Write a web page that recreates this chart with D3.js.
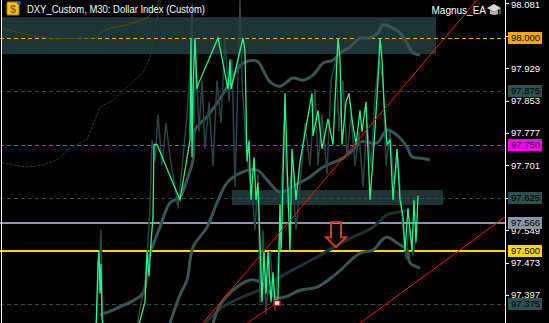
<!DOCTYPE html>
<meta charset="utf-8">
<style>
body { margin: 0; background: #000; }
svg { display: block; background: #000; }
text { font-family: "Liberation Sans", Arial, sans-serif; }
.tick-label { fill: #fff; font-size: 9.5px; }
.lvl-label { fill: #000; font-size: 9.5px; }
</style>
<svg width="549" height="323"></svg>
<script src="https://d3js.org/d3.v7.min.js"></script>
<script>

// ---- data (bar number, price) ----
var priceLine = [[96,97.31],[98,97.47],[99,97.50],[100,97.40],[101,97.47],[102,97.34],[104,97.31],
  [138,97.32],[145,97.38],[147,97.50],[149,97.44],[151,97.52],[153,97.58],[154,97.75],[157,97.75],
  [180,97.62],[190,97.76],[191,98.00],[192,97.72],[193,97.88],[195,98.00],[197,97.88],[198,97.89],
  [218,98.00],[228,97.88],[230,97.95],[231,97.88],[243,98.00],[245,97.97],[247,97.71],[249,97.76],
  [251,97.62],[254,97.72],[256,97.62],[258,97.66],[262,97.38],[264,97.50],[266,97.40],[268,97.50],
  [271,97.38],[273,97.45],[275,97.38],[278,97.39],[280,97.61],[281,97.50],[282,97.57],[285,97.87],
  [287,97.71],[290,97.50],[292,97.74],[296,97.62],[300,97.71],[312,97.87],[313,97.77],[318,97.83],
  [322,97.74],[328,97.81],[333,97.75],[338,98.00],[340,97.95],[342,97.75],[346,97.85],[349,97.87],
  [352,97.81],[356,97.75],[360,97.83],[362,97.78],[366,97.85],[370,97.62],[374,97.75],[378,97.90],
  [380,98.00],[382,97.95],[384,97.85],[387,97.75],[390,97.76],[393,97.62],[397,97.74],[400,97.62],
  [403,97.58],[405,97.50],[408,97.60],[410,97.55],[412,97.50],[414,97.62],[416,97.52],[418,97.63]];

var shadowLine = [[96,97.31],[101,97.55],[103,97.33],[136,97.31],[146,97.44],[150,97.60],[152,97.76],
  [155,97.71],[158,97.82],[162,97.70],[166,97.80],[170,97.72],[175,97.65],[178,97.60],[183,97.72],
  [187,97.82],[190,97.92],[192,98.08],[194,97.80],[196,97.95],[199,97.78],[202,97.90],[205,97.74],
  [209,97.85],[213,97.70],[217,97.90],[221,97.80],[225,98.00],[229,97.85],[232,97.95],[235,97.65],
  [237,97.82],[240,98.09],[242,97.90],[246,97.75],[249,97.68],[252,97.64],[255,97.55],[258,97.68],
  [260,97.38],[263,97.55],[266,97.35],[270,97.50],[275,97.36],[280,97.55],[284,97.80],[288,97.60],
  [292,97.70],[296,97.55],[300,97.65],[305,97.80],[310,97.70],[315,97.88],[318,97.70],[322,97.82],
  [327,97.68],[331,97.90],[336,97.95],[339,97.78],[343,97.90],[347,97.72],[351,97.82],[355,97.70],
  [359,97.78],[363,97.65],[367,97.80],[371,97.70],[375,97.86],[379,97.95],[383,97.90],[386,97.70],
  [390,97.78],[394,97.66],[398,97.72],[402,97.58],[406,97.48],[409,97.56],[413,97.49],[417,97.55]];

var bandUpper = [[100,97.350],[120,97.369],[143,97.401],[148,97.479],[160,97.556],[170,97.613],
  [180,97.627],[187,97.667],[193,97.714],[195,97.784],[207,97.815],[217,97.847],[227,97.885],
  [237,97.925],[243,97.941],[257,97.946],[263,97.925],[270,97.897],[280,97.887],[293,97.906],
  [303,97.901],[313,97.913],[323,97.941],[333,97.948],[340,97.965],[350,97.979],[360,98.000],
  [370,98.000],[378,98.012],[383,98.031],[393,98.023],[400,98.012],[407,97.988],[413,97.965],[420,97.960]];

var bandMiddle = [[170,97.331],[180,97.397],[187,97.432],[193,97.509],[207,97.556],[217,97.613],
  [227,97.660],[240,97.683],[257,97.690],[267,97.667],[280,97.638],[297,97.657],[310,97.674],
  [323,97.697],[343,97.718],[353,97.737],[360,97.756],[377,97.754],[387,97.784],[397,97.772],
  [407,97.744],[412,97.721],[420,97.718],[430,97.714]];

var bandLower = [[213,97.331],[220,97.373],[233,97.408],[250,97.432],[262,97.425],[270,97.401],
  [277,97.390],[285,97.392],[300,97.408],[317,97.415],[337,97.448],[360,97.495],[373,97.502],
  [382,97.526],[387,97.533],[397,97.519],[407,97.502],[410,97.472],[420,97.460]];

var slowAvg = [[205,97.331],[223,97.369],[240,97.390],[257,97.406],[280,97.439],[317,97.486],
  [347,97.526],[373,97.556],[387,97.585],[400,97.592],[410,97.596]];

var oliveAvg = [[2,98.023],[20,98.012],[50,97.998],[97,98.000],[100,98.012],[110,98.023],
  [127,98.031],[137,98.038],[147,98.047],[157,98.073],[160,98.094]];

var oldAvg = [[2,97.707],[27,97.697],[43,97.702],[57,97.714],[67,97.737],[87,97.761],[100,97.838],
  [113,97.854],[127,97.885],[143,97.918],[150,97.955],[157,98.042],[162,98.101]];

var trendLines = [
  [[200,97.323],[479,98.095]],
  [[355,97.322],[505,97.580]],
  [[240,97.320],[277,97.378]]
];
var anchorPoint = [277, 97.378];
var arrowTip = [336, 97.509];

var zones = [
  {from: 2, to: 436, hi: 98.049, lo: 97.962},
  {from: 232, to: 443, hi: 97.643, lo: 97.608}
];

var levels = [98.000, 97.875, 97.750, 97.625, 97.566, 97.500, 97.375];
var yTicks = [98.081, 98.005, 97.929, 97.853, 97.777, 97.701, 97.625, 97.549, 97.473, 97.397];
// the labels of these two ticks sit under the level boxes
var hiddenTicks = [98.005, 97.625];

var titleText = "DXY_Custom, M30:  Dollar Index (Custom)";
var eaText = "Magnus_EA";

// ---- styles for the levels ----
var levelStyle = [
  {color: "#ffa500", dash: "4,3", w: 1},
  {color: "#2f4f4f", dash: "4,3", w: 1},
  {color: "#ff00ff", dash: "4,3", w: 1},
  {color: "#2f4f4f", dash: "4,3", w: 1},
  {color: "#8896a6", dash: null, w: 2},
  {color: "#ffd700", dash: null, w: 2},
  {color: "#2f4f4f", dash: "4,3", w: 1}
];

var svg = d3.select("svg"),
    plotW = 505, height = 323;

var x = d3.scaleLinear().domain([0, 505]).range([0, plotW]);
var y = d3.scaleLinear().domain([97.3310, 98.0892]).range([height, 0]);

svg.append("clipPath").attr("id", "plot")
  .append("rect").attr("x", 0).attr("y", 0).attr("width", plotW).attr("height", height);

var g = svg.append("g").attr("clip-path", "url(#plot)");

var line = d3.line()
    .x(function(d) { return x(d[0]); })
    .y(function(d) { return y(d[1]); });
var smooth = d3.line()
    .curve(d3.curveCatmullRom)
    .x(function(d) { return x(d[0]); })
    .y(function(d) { return y(d[1]); });

// zones
g.selectAll(".zone").data(zones).enter().append("rect")
    .attr("x", function(d) { return x(d.from); })
    .attr("width", function(d) { return x(d.to) - x(d.from); })
    .attr("y", function(d) { return y(d.hi); })
    .attr("height", function(d) { return y(d.lo) - y(d.hi); })
    .attr("fill", "#1f3434");

// levels
g.selectAll(".lvl").data(levels).enter().append("line")
    .attr("x1", 0).attr("x2", plotW)
    .attr("y1", function(d, i) { return Math.round(y(d)) + (levelStyle[i].w == 2 ? 0 : 0.5); })
    .attr("y2", function(d, i) { return Math.round(y(d)) + (levelStyle[i].w == 2 ? 0 : 0.5); })
    .attr("stroke", function(d, i) { return levelStyle[i].color; })
    .attr("stroke-width", function(d, i) { return levelStyle[i].w; })
    .attr("stroke-dasharray", function(d, i) { return levelStyle[i].dash; });

// old averages on the left
g.append("path").datum(oliveAvg)
    .attr("d", line).attr("fill", "none").attr("stroke", "#4a4a12").attr("stroke-width", 1);
g.append("path").datum(oldAvg)
    .attr("d", line).attr("fill", "none").attr("stroke", "#2a3c3c").attr("stroke-width", 1)
    .attr("stroke-dasharray", "3,1");

// bands
g.append("path").datum(slowAvg)
    .attr("d", smooth).attr("fill", "none").attr("stroke", "#1e3232").attr("stroke-width", 3);
[bandUpper, bandMiddle, bandLower].forEach(function(b) {
  g.append("path").datum(b)
      .attr("d", smooth).attr("fill", "none").attr("stroke", "#385454").attr("stroke-width", 3);
});

// price shadows and price line
g.append("path").datum(shadowLine)
    .attr("d", line).attr("fill", "none").attr("stroke", "#2a4444").attr("stroke-width", 1.5);
g.append("path").datum(priceLine)
    .attr("d", line).attr("fill", "none").attr("stroke", "#22f58a").attr("stroke-width", 1.3);

// trend lines
g.selectAll(".trend").data(trendLines).enter().append("path")
    .attr("d", line).attr("fill", "none").attr("stroke", "#ff1010").attr("stroke-width", 1);

g.append("rect")
    .attr("x", x(anchorPoint[0]) - 3).attr("y", y(anchorPoint[1]) - 2.5)
    .attr("width", 6).attr("height", 5)
    .attr("fill", "#fff").attr("stroke", "#e00000").attr("stroke-width", 1.5);

// down arrow
var ax = x(arrowTip[0]), ay = y(arrowTip[1]);
g.append("path")
    .attr("d", "M" + ax + "," + ay + " l-10,-10 h5 v-15 h10 v15 h5 z")
    .attr("fill", "none").attr("stroke", "#c8401e").attr("stroke-width", 2)
    .attr("stroke-linejoin", "miter");

// frame
svg.append("line").attr("x1", 1.5).attr("x2", 1.5).attr("y1", 0).attr("y2", height)
    .attr("stroke", "#fff").attr("stroke-width", 1);
svg.append("line").attr("x1", plotW + 0.5).attr("x2", plotW + 0.5).attr("y1", 0).attr("y2", height)
    .attr("stroke", "#fff").attr("stroke-width", 1);

// price scale
var axis = svg.append("g");
axis.selectAll(".tk").data(yTicks).enter().append("line")
    .attr("x1", plotW).attr("x2", plotW + 4)
    .attr("y1", function(d) { return Math.round(y(d)) + 0.5; })
    .attr("y2", function(d) { return Math.round(y(d)) + 0.5; })
    .attr("stroke", "#fff");
axis.selectAll(".tl").data(yTicks.filter(function(d) { return hiddenTicks.indexOf(d) < 0; }))
  .enter().append("text")
    .attr("class", "tick-label")
    .attr("x", plotW + 6)
    .attr("y", function(d) { return Math.max(y(d), 5); })
    .attr("dy", "0.36em")
    .text(function(d) { return d3.format(".3f")(d); });

var lab = svg.append("g").selectAll("g").data(levels).enter().append("g")
    .attr("transform", function(d) { return "translate(" + (plotW + 3) + "," + Math.round(y(d)) + ")"; });
lab.append("rect")
    .attr("x", 0).attr("y", -6).attr("width", 34).attr("height", 12)
    .attr("fill", function(d, i) { return levelStyle[i].color; });
lab.append("text")
    .attr("class", "lvl-label")
    .attr("x", 3).attr("y", 0).attr("dy", "0.36em")
    .text(function(d) { return d3.format(".3f")(d); });

// title + icon
var icon = svg.append("g").attr("transform", "translate(7,2)");
icon.append("rect").attr("width", 12).attr("height", 13).attr("rx", 1)
    .attr("fill", "#f0c020").attr("stroke", "#b08000");
icon.append("text").attr("x", 6).attr("y", 11).attr("text-anchor", "middle")
    .attr("font-size", "11px").attr("font-weight", "bold").attr("fill", "#a06000").text("$");
icon.append("circle").attr("cx", 12).attr("cy", 1).attr("r", 2).attr("fill", "#2060c0");

svg.append("text").attr("x", 27).attr("y", 13)
    .attr("fill", "#fff").attr("font-size", "10px")
    .attr("textLength", 178).attr("lengthAdjust", "spacingAndGlyphs")
    .text(titleText);

svg.append("text").attr("x", 486).attr("y", 14).attr("text-anchor", "end")
    .attr("fill", "#fff").attr("font-size", "10px")
    .text(eaText);

// graduation cap
var cap = svg.append("g").attr("transform", "translate(494,8)");
cap.append("path").attr("d", "M-7,0 L0,-4 L7,0 L0,4 Z").attr("fill", "#d8d8d8");
cap.append("path").attr("d", "M-4,2 v4 q4,2 8,0 v-4 l-4,2 z").attr("fill", "#b0b0b0");
cap.append("line").attr("x1", 6).attr("x2", 6).attr("y1", 0).attr("y2", 6).attr("stroke", "#aaa");

</script>
